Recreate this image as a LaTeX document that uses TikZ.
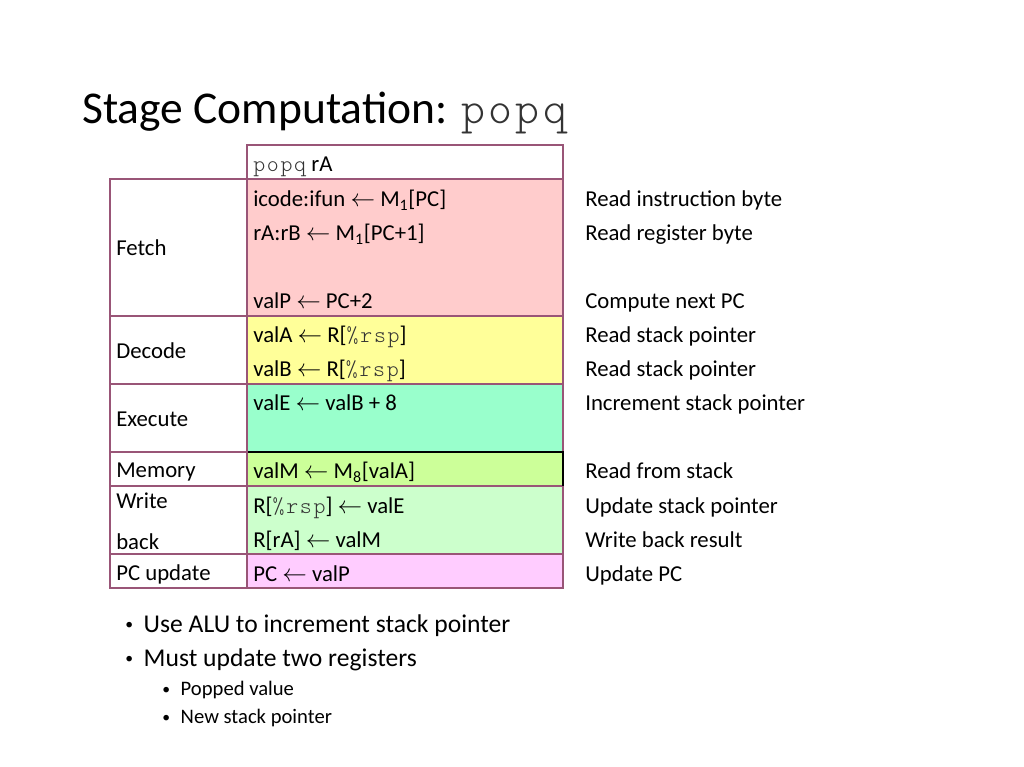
\documentclass[tikz,border=0pt]{standalone}
\usepackage{fontspec}
\setmainfont{Carlito}
\setmonofont[LetterSpace=7.5]{Latin Modern Mono Light}
\usetikzlibrary{positioning}

\definecolor{framecol}{RGB}{153,85,119}
\definecolor{fetchcol}{RGB}{255,204,204}
\definecolor{decodecol}{RGB}{255,255,153}
\definecolor{execcol}{RGB}{153,255,204}
\definecolor{memcol}{RGB}{204,255,153}
\definecolor{wbcol}{RGB}{204,255,204}
\definecolor{pccol}{RGB}{255,204,255}

\newcommand{\la}{\ensuremath{\leftarrow}}
\newcommand{\reg}[1]{\texttt{\textcolor{black!80}{#1}}}
\newcommand{\dotmark}[1]{\raisebox{#1}{\fontsize{11}{11}\selectfont\textbullet}}

\tikzset{
  cell/.style={draw=framecol, line width=1.6pt},
  txt/.style={anchor=base west, inner sep=0pt, font=\fontsize{16}{19}\selectfont},
  bul/.style={anchor=base west, inner sep=0pt, font=\fontsize{18}{22}\selectfont},
  subbul/.style={anchor=base west, inner sep=0pt, font=\fontsize{14.5}{17}\selectfont}
}

\begin{document}
\begin{tikzpicture}[x=0.703125pt, y=-0.703125pt]
		\useasboundingbox (0,0) rectangle (1024,767);
		
		\node[anchor=base west, inner sep=0pt, font=\fontsize{32}{38}\selectfont] (title) at (82,124) {Stage Computation: \reg{popq}}; %title
		
		% right column, one cell per stage
		\filldraw[cell, fill=white]     (247,145) rectangle (563,179); %instruction
		\filldraw[cell, fill=fetchcol]  (247,179) rectangle (563,316); %fetch
		\filldraw[cell, fill=decodecol] (247,316) rectangle (563,384); %decode
		\filldraw[cell, fill=execcol]   (247,384) rectangle (563,452); %execute
		\filldraw[cell, fill=memcol]    (247,452) rectangle (563,486); %memory
		\filldraw[cell, fill=wbcol]     (247,486) rectangle (563,554); %write back
		\filldraw[cell, fill=pccol]     (247,554) rectangle (563,588); %pc update
		\draw[black, line width=1.4pt] (247,452) -- (563,452) -- (563,486); %memory frame
		
		% left column
		\filldraw[cell, fill=white] (110,179) rectangle (247,316);
		\filldraw[cell, fill=white] (110,316) rectangle (247,384);
		\filldraw[cell, fill=white] (110,384) rectangle (247,452);
		\filldraw[cell, fill=white] (110,452) rectangle (247,486);
		\filldraw[cell, fill=white] (110,486) rectangle (247,554);
		\filldraw[cell, fill=white] (110,554) rectangle (247,588);
		
		% stage names
		\node[txt] (fetch)   at (116,255.5) {Fetch};
		\node[txt] (decode)  at (116,358.5) {Decode};
		\node[txt] (execute) at (116,426.5) {Execute};
		\node[txt] (memory)  at (116,477.5) {Memory};
		\node[txt] (write)   at (116,508.5) {Write};
		\node[txt] (back)    at (116,549.5) {back};
		\node[txt] (pcupd)   at (116,580.5) {PC update};
		
		% computations
		\node[txt] (instr) at (253,171.5) {\reg{popq} rA};
		\node[txt] (icode) at (253,206.5) {icode:ifun \la{} M\textsubscript{1}[PC]};
		\node[txt] (rarb)  at (253,240.5) {rA:rB \la{} M\textsubscript{1}[PC+1]};
		\node[txt] (valp)  at (253,308.5) {valP \la{} PC+2};
		\node[txt] (vala)  at (253,342.5) {valA \la{} R[\reg{\%rsp}]};
		\node[txt] (valb)  at (253,376.5) {valB \la{} R[\reg{\%rsp}]};
		\node[txt] (vale)  at (253,410.5) {valE \la{} valB + 8};
		\node[txt] (valm)  at (253,478.5) {valM \la{} M\textsubscript{8}[valA]};
		\node[txt] (wrsp)  at (253,513.5) {R[\reg{\%rsp}] \la{} valE};
		\node[txt] (wra)   at (253,547.5) {R[rA] \la{} valM};
		\node[txt] (newpc) at (253,581.5) {PC \la{} valP};
		
		% comments
		\node[txt] (c1) at (585,206.5) {Read instruction byte};
		\node[txt] (c2) at (585,240.5) {Read register byte};
		\node[txt] (c3) at (585,308.5) {Compute next PC};
		\node[txt] (c4) at (585,342.5) {Read stack pointer};
		\node[txt] (c5) at (585,376.5) {Read stack pointer};
		\node[txt] (c6) at (585,410.5) {Increment stack pointer};
		\node[txt] (c7) at (585,478.5) {Read from stack};
		\node[txt] (c8) at (585,513.5) {Update stack pointer};
		\node[txt] (c9) at (585,547.5) {Write back result};
		\node[txt] (c10) at (585,581.5) {Update PC};
		
		% notes
		\node[bul] (b1) at (125,632) {\dotmark{1.5pt}\hspace{7.5pt}Use ALU to increment stack pointer};
		\node[bul] (b2) at (125,666) {\dotmark{1.5pt}\hspace{7.5pt}Must update two registers};
		\node[subbul] (s1) at (162,695) {\dotmark{0.5pt}\hspace{7.5pt}Popped value};
		\node[subbul] (s2) at (162,723) {\dotmark{0.5pt}\hspace{7.5pt}New stack pointer};
		
\end{tikzpicture}
\end{document}
